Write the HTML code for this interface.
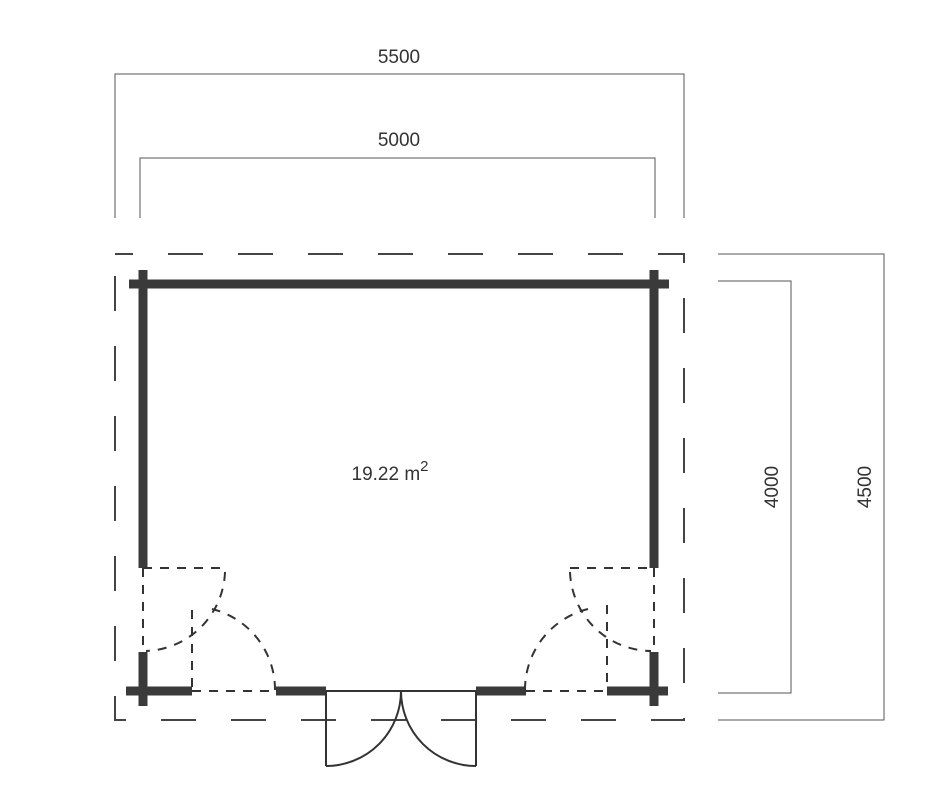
<!DOCTYPE html>
<html><head><style>body{margin:0;background:#fff}svg{display:block}</style></head><body>
<svg width="938" height="794" viewBox="0 0 938 794" xmlns="http://www.w3.org/2000/svg">
<g fill="none" stroke="#555" stroke-width="1">
<polyline points="115,218 115,74 684,74 684,218"/>
<polyline points="140,218 140,158 655,158 655,218"/>
<polyline points="718,254 884,254 884,720 718,720"/>
<polyline points="718,281 791,281 791,693 718,693"/>
</g>
<g font-family="Liberation Sans, sans-serif" font-size="19" fill="#333" text-anchor="middle">
<text x="399" y="63">5500</text>
<text x="399" y="146">5000</text>
<text transform="translate(778,487) rotate(-90)">4000</text>
<text transform="translate(871,487) rotate(-90)">4500</text>
<text x="390" y="480">19.22 m<tspan font-size="15" dy="-9">2</tspan></text>
</g>
<rect x="115" y="254" width="569" height="466" fill="none" stroke="#444" stroke-width="2" stroke-dasharray="35 35" stroke-dashoffset="17"/>
<g stroke="#3a3a3a" stroke-width="9" fill="none">
<line x1="129" y1="284" x2="669" y2="284"/>
<line x1="143" y1="270" x2="143" y2="568"/>
<line x1="654" y1="270" x2="654" y2="568"/>
<line x1="126" y1="691" x2="192" y2="691"/>
<line x1="143" y1="652" x2="143" y2="706"/>
<line x1="607" y1="691" x2="668" y2="691"/>
<line x1="654" y1="652" x2="654" y2="706"/>
<line x1="276" y1="691" x2="326" y2="691"/>
<line x1="476" y1="691" x2="526" y2="691"/>
</g>
<g stroke="#333" stroke-width="2" fill="none" stroke-dasharray="9 8">
<polyline points="143,568 225,568"/>
<line x1="143" y1="568" x2="143" y2="652"/>
<line x1="192" y1="610" x2="192" y2="690"/>
<line x1="192" y1="691" x2="276" y2="691"/>
<path d="M275,690 A83,83 0 0 0 212,609"/>
<path d="M225,572 A82,82 0 0 1 146,651"/>
<line x1="570" y1="568" x2="654" y2="568"/>
<line x1="654" y1="568" x2="654" y2="652"/>
<line x1="607" y1="605" x2="607" y2="690"/>
<line x1="526" y1="691" x2="607" y2="691"/>
<path d="M525,690 A83,83 0 0 1 588,609"/>
<path d="M570,572 A82,82 0 0 0 651,651"/>
</g>
<g stroke="#333" stroke-width="2" fill="none">
<line x1="326" y1="691" x2="476" y2="691"/>
<line x1="326" y1="691" x2="326" y2="766"/>
<line x1="476" y1="691" x2="476" y2="766"/>
<path d="M326,766 A75,75 0 0 0 401,691"/>
<path d="M476,766 A75,75 0 0 1 401,691"/>
</g>
</svg>
</body></html>
